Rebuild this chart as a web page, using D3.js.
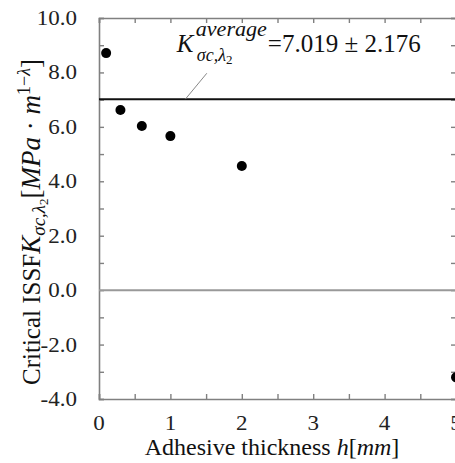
<!DOCTYPE html>
<html>
<head>
<meta charset="utf-8">
<script src="https://cdn.jsdelivr.net/npm/d3@7"></script>
<style>
  body { margin: 0; background: #fff; }
  svg { display: block; }
  svg text { font-family: 'Liberation Serif', 'DejaVu Serif', serif; }
</style>
</head>
<body>
<div class="canvas"></div>
<script>
// data
const thickness = [0.1, 0.3, 0.6, 1.0, 2.0, 5.0];
const criticalK = [8.71, 6.62, 6.03, 5.66, 4.56, -3.2];
const kAverage = 7.019;
const kStd = 2.176;
const xTickLabels = [0, 1, 2, 3, 4, 5];
const yTickLabels = [-4, -2, 0, 2, 4, 6, 8, 10];

const width = 455;
const height = 463;
const margin = { top: 18, right: -1, bottom: 64, left: 99 };

const svg = d3.select('.canvas')
  .append('svg')
  .attr('width', width)
  .attr('height', height);

// scales
const x = d3.scaleLinear().domain([0, 5]).range([margin.left, width - margin.right]);
const y = d3.scaleLinear().domain([-4, 10]).range([height - margin.bottom, margin.top]);

const axisColor = '#808080';
const serif = "'Liberation Serif', 'DejaVu Serif', serif";

// frame + inward ticks
const xMinor = d3.range(0, 5.01, 0.5);
const yMinor = d3.range(-4, 10.01, 1);

const bottomAxis = svg.append('g')
  .attr('transform', `translate(0,${y(-4)})`)
  .call(d3.axisBottom(x).tickValues(xMinor).tickSize(-5).tickFormat(''));
const topAxis = svg.append('g')
  .attr('transform', `translate(0,${y(10)})`)
  .call(d3.axisTop(x).tickValues(xMinor).tickSize(-5).tickFormat(''));
const leftAxis = svg.append('g')
  .attr('transform', `translate(${x(0)},0)`)
  .call(d3.axisLeft(y).tickValues(yMinor).tickSize(-5).tickFormat(''));
const rightAxis = svg.append('g')
  .attr('transform', `translate(${x(5)},0)`)
  .call(d3.axisRight(y).tickValues(yMinor).tickSize(-5).tickFormat(''));

[bottomAxis, topAxis, leftAxis, rightAxis].forEach(g => {
  g.select('.domain').attr('stroke', axisColor).attr('stroke-width', 1.6);
  g.selectAll('.tick line').attr('stroke', axisColor).attr('stroke-width', 1.4);
});

// tick labels (the source figure is a bit stretched sideways)
svg.append('g')
  .selectAll('text')
  .data(xTickLabels)
  .enter()
  .append('text')
  .attr('transform', d => `translate(${x(d)},${y(-4) + 31}) scale(1.15,1)`)
  .attr('text-anchor', 'middle')
  .attr('font-family', serif)
  .attr('font-size', 20)
  .attr('fill', '#222')
  .text(d => d);

svg.append('g')
  .selectAll('text')
  .data(yTickLabels)
  .enter()
  .append('text')
  .attr('transform', d => `translate(${x(0) - 22},${y(d) + 7}) scale(1.15,1)`)
  .attr('text-anchor', 'end')
  .attr('font-family', serif)
  .attr('font-size', 20)
  .attr('fill', '#222')
  .text(d => d.toFixed(1));

// zero line
svg.append('line')
  .attr('x1', x(0)).attr('x2', x(5))
  .attr('y1', y(0)).attr('y2', y(0))
  .attr('stroke', '#999')
  .attr('stroke-width', 2);

// average line
svg.append('line')
  .attr('x1', x(0)).attr('x2', x(5))
  .attr('y1', y(kAverage)).attr('y2', y(kAverage))
  .attr('stroke', '#111')
  .attr('stroke-width', 2);

// leader line for the annotation
svg.append('line')
  .attr('x1', x(1.21)).attr('y1', y(kAverage))
  .attr('x2', x(1.51)).attr('y2', y(7.97))
  .attr('stroke', '#888')
  .attr('stroke-width', 1);

// annotation text
const annX = x(1.09);
svg.append('text')
  .attr('x', annX).attr('y', 52)
  .attr('fill', '#111')
  .attr('font-family', serif)
  .attr('font-size', 25)
  .attr('font-style', 'italic')
  .text('K');
svg.append('text')
  .attr('x', annX + 19).attr('y', 36)
  .attr('fill', '#111')
  .attr('font-family', serif)
  .attr('font-size', 20)
  .attr('font-style', 'italic')
  .attr('textLength', 71)
  .attr('lengthAdjust', 'spacingAndGlyphs')
  .text('average');
const annSub = svg.append('text')
  .attr('x', annX + 20).attr('y', 61)
  .attr('fill', '#111')
  .attr('font-family', serif)
  .attr('font-size', 18)
  .attr('font-style', 'italic');
annSub.append('tspan').text('σc,λ');
annSub.append('tspan').attr('font-size', 13).attr('dy', 3).attr('font-style', 'normal').text('2');
svg.append('text')
  .attr('x', annX + 91).attr('y', 52)
  .attr('fill', '#111')
  .attr('font-family', serif)
  .attr('font-size', 25)
  .text(`=${kAverage.toFixed(3)} ± ${kStd.toFixed(3)}`);

// points
svg.append('g')
  .selectAll('circle')
  .data(thickness)
  .enter()
  .append('circle')
  .attr('cx', d => x(d))
  .attr('cy', (d, i) => y(criticalK[i]))
  .attr('r', 5)
  .attr('fill', '#000');

// x title
const xt = svg.append('text')
  .attr('x', 272)
  .attr('y', 455)
  .attr('text-anchor', 'middle')
  .attr('font-family', serif)
  .attr('font-size', 24)
  .attr('fill', '#111');
xt.append('tspan').text('Adhesive thickness ');
xt.append('tspan').attr('font-style', 'italic').text('h');
xt.append('tspan').text('[');
xt.append('tspan').attr('font-style', 'italic').text('mm');
xt.append('tspan').text(']');

// y title
const yt = svg.append('text')
  .attr('transform', 'translate(40,222) rotate(-90)')
  .attr('text-anchor', 'middle')
  .attr('font-family', serif)
  .attr('font-size', 25)
  .attr('fill', '#111');
yt.append('tspan').text('Critical ISSF');
yt.append('tspan').attr('font-style', 'italic').attr('font-size', 27).text('K');
yt.append('tspan').attr('font-style', 'italic').attr('font-size', 19).attr('dy', 5).text('σc,λ');
yt.append('tspan').attr('font-size', 13).attr('dy', 3).text('2');
yt.append('tspan').attr('font-size', 27).attr('dy', -8).text('[');
yt.append('tspan').attr('font-style', 'italic').attr('font-size', 27).text('MPa');
yt.append('tspan').attr('font-size', 27).text(' · ');
yt.append('tspan').attr('font-style', 'italic').attr('font-size', 27).text('m');
yt.append('tspan').attr('font-size', 18).attr('dy', -10).text('1−');
yt.append('tspan').attr('font-size', 18).attr('font-style', 'italic').text('λ');
yt.append('tspan').attr('font-size', 27).attr('dy', 10).text(']');
</script>
</body>
</html>
